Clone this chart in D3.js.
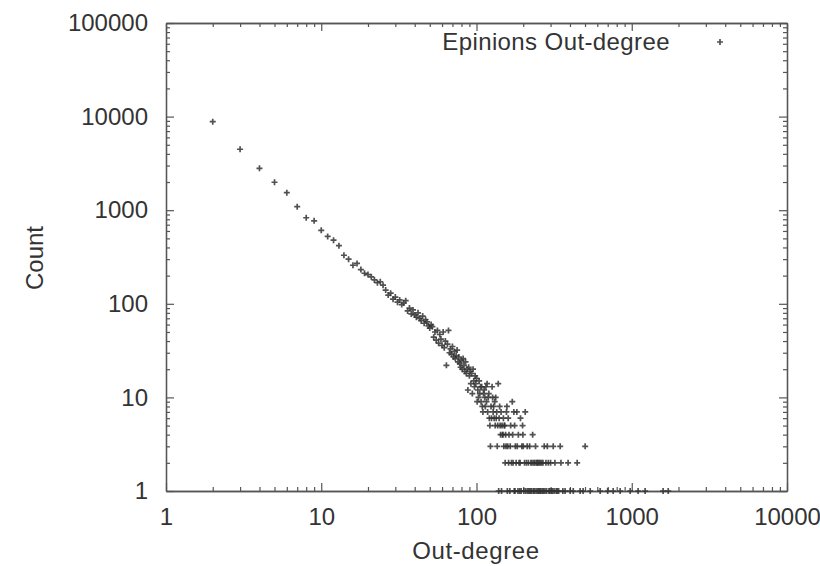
<!DOCTYPE html>
<html>
<head>
<meta charset="utf-8">
<script src="https://cdn.jsdelivr.net/npm/d3@7"></script>
<style>
  html, body { margin: 0; padding: 0; background: #fff; }
  svg { display: block; font-family: "Liberation Sans", Arial, Helvetica, sans-serif; }
</style>
</head>
<body>
<svg id="chart" width="820" height="566"></svg>
<script>
// Out-degree distribution of the Epinions trust network (log-log)
const outDegree = [
  2, 3, 4, 5, 6, 7, 8, 9, 10, 11, 12, 13, 14, 15, 16, 17, 18, 19, 20,
  21, 22, 23, 24, 25, 26, 27, 28, 29, 30, 31, 32, 33, 34, 35, 36, 37, 38, 39, 40,
  41, 42, 43, 44, 45, 46, 47, 48, 49, 50, 51, 52, 53, 54, 55, 56, 57, 58, 59, 60,
  61, 62, 63, 64, 65, 66, 67, 68, 69, 70, 71, 72, 73, 74, 75, 76, 77, 78, 79, 80,
  81, 82, 83, 84, 85, 86, 87, 88, 89, 90, 91, 92, 93, 94, 95, 96, 97, 98, 99, 100,
  101, 102, 103, 104, 105, 106, 107, 108, 109, 110, 111, 112, 113, 114, 115, 116, 117, 118, 119, 120,
  121, 122, 123, 124, 125, 126, 127, 128, 129, 130, 131, 132, 133, 134, 135, 136, 137, 138, 139, 140,
  141, 142, 143, 144, 145, 146, 147, 148, 149, 150, 151, 152, 153, 154, 155, 156, 157, 158,
  159, 160, 161, 162, 164, 165, 166, 168, 170, 171, 172, 174, 175, 176, 177, 178, 180, 182, 183, 185,
  186, 188, 190, 191, 192, 194, 196, 198, 199, 200, 202, 204, 206, 208, 210, 212, 214, 216, 218, 220,
  222, 224, 226, 228, 230, 232, 234, 236, 238, 240, 242, 244, 246, 248, 250, 252, 254, 256, 258, 260,
  263, 266, 268, 270, 273, 276, 280, 283, 286, 290, 293, 297, 300, 304, 308, 312, 316, 320, 326, 332,
  338, 346, 350, 360, 372, 389, 401, 420, 445, 465, 486, 501, 540, 626, 700, 759, 842, 977, 1099, 1219,
  1592, 1718
];
const nodeCount = [
  8830, 4480, 2800, 1990, 1540, 1090, 830, 770, 610, 525, 478, 418, 330, 300, 258, 270, 232, 212, 205,
  194, 180, 168, 172, 158, 140, 124, 130, 112, 118, 104, 110, 98, 102, 108, 84, 90, 78, 86, 76,
  72, 80, 70, 66, 74, 62, 68, 64, 58, 55, 60, 57, 44, 50, 41, 52, 38, 47, 42, 36,
  50, 34, 40, 22, 37, 52, 30, 33, 29, 35, 27, 31, 26, 28, 32, 24, 27, 23, 21, 25,
  20, 26, 22, 19, 24, 18, 20, 12, 21, 17, 19, 14, 18, 11, 20, 15, 13, 17, 14, 16,
  9, 12, 10, 15, 11, 13, 9, 13, 8, 7, 11, 12, 10, 8, 13, 9, 14, 7, 10, 11,
  6, 5, 3, 8, 6, 13, 10, 7, 8, 6, 9, 5, 10, 6, 7, 3, 5, 14, 1, 6,
  8, 5, 4, 7, 1, 5, 4, 4, 6, 3, 5, 5, 2, 4, 3, 7, 8, 1,
  3, 6, 2, 4, 1, 3, 5, 2, 9, 4, 2, 7, 1, 5, 1, 3, 2, 7, 3, 1,
  4, 2, 1, 2, 6, 1, 3, 5, 4, 3, 1, 2, 7, 1, 2, 3, 1, 2, 1, 3,
  1, 2, 1, 2, 4, 1, 2, 1, 2, 3, 1, 2, 2, 1, 2, 1, 2, 1, 2, 1,
  2, 1, 2, 1, 3, 1, 2, 1, 3, 2, 1, 1, 2, 1, 1, 3, 1, 2, 1, 1,
  1, 3, 2, 1, 1, 2, 1, 1, 2, 1, 1, 3, 1, 1, 1, 1, 1, 1, 1, 1,
  1, 1
];

const xTickValues = [1, 10, 100, 1000, 10000];
const yTickValues = [1, 10, 100, 1000, 10000, 100000];
const seriesLabel = "Epinions Out-degree";
const xTitle = "Out-degree";
const yTitle = "Count";

const plot = { left: 166, right: 787, top: 23, bottom: 491 };
const axisColor = "#555";
const textColor = "#333";
const markColor = "#333";
const fontSize = 24;

const svg = d3.select("#chart");

const x = d3.scaleLog().domain([1, 10000]).range([plot.left, plot.right]);
const y = d3.scaleLog().domain([1, 100000]).range([plot.bottom, plot.top]);

// minor ticks at 2..9 within each decade
function minorTicks(majors) {
  const out = [];
  for (let i = 0; i < majors.length - 1; i++) {
    for (let m = 2; m <= 9; m++) out.push(majors[i] * m);
  }
  return out;
}
const xMinor = minorTicks(xTickValues);
const yMinor = minorTicks(yTickValues);

function styleAxis(g) {
  g.selectAll("path.domain").attr("stroke", axisColor).attr("stroke-width", 1.3);
  g.selectAll(".tick line").attr("stroke", axisColor).attr("stroke-width", 1.2);
  g.selectAll(".tick text")
    .attr("fill", textColor)
    .style("font-size", fontSize + "px")
    .style("font-family", '"Liberation Sans", Arial, sans-serif');
}

// bottom axis with labels
svg.append("g")
  .attr("transform", `translate(0,${plot.bottom})`)
  .call(d3.axisBottom(x).tickValues(xTickValues).tickFormat(d3.format("d"))
    .tickSize(-8).tickSizeOuter(0).tickPadding(17))
  .call(styleAxis);
svg.append("g")
  .attr("transform", `translate(0,${plot.bottom})`)
  .call(d3.axisBottom(x).tickValues(xMinor).tickFormat("").tickSize(-4).tickSizeOuter(0))
  .call(styleAxis);

// top mirror
svg.append("g")
  .attr("transform", `translate(0,${plot.top})`)
  .call(d3.axisTop(x).tickValues(xTickValues).tickFormat("").tickSize(-8).tickSizeOuter(0))
  .call(styleAxis);
svg.append("g")
  .attr("transform", `translate(0,${plot.top})`)
  .call(d3.axisTop(x).tickValues(xMinor).tickFormat("").tickSize(-4).tickSizeOuter(0))
  .call(styleAxis);

// left axis with labels
svg.append("g")
  .attr("transform", `translate(${plot.left},0)`)
  .call(d3.axisLeft(y).tickValues(yTickValues).tickFormat(d3.format("d"))
    .tickSize(-8).tickSizeOuter(0).tickPadding(18))
  .call(styleAxis);
svg.append("g")
  .attr("transform", `translate(${plot.left},0)`)
  .call(d3.axisLeft(y).tickValues(yMinor).tickFormat("").tickSize(-4).tickSizeOuter(0))
  .call(styleAxis);

// right mirror
svg.append("g")
  .attr("transform", `translate(${plot.right},0)`)
  .call(d3.axisRight(y).tickValues(yTickValues).tickFormat("").tickSize(-8).tickSizeOuter(0))
  .call(styleAxis);
svg.append("g")
  .attr("transform", `translate(${plot.right},0)`)
  .call(d3.axisRight(y).tickValues(yMinor).tickFormat("").tickSize(-4).tickSizeOuter(0))
  .call(styleAxis);

// axis titles
svg.append("text")
  .attr("x", 476)
  .attr("y", 551)
  .attr("text-anchor", "middle")
  .attr("dy", "0.35em")
  .attr("fill", textColor)
  .style("font-size", fontSize + "px")
  .style("letter-spacing", "0.6px")
  .text(xTitle);

svg.append("text")
  .attr("transform", `translate(35,258) rotate(-90)`)
  .attr("text-anchor", "middle")
  .attr("dy", "0.35em")
  .attr("fill", textColor)
  .style("font-size", fontSize + "px")
  .text(yTitle);

// points drawn as small crosses
const cross = "M-3,0H3M0,-3V3";
const points = d3.zip(outDegree, nodeCount);

svg.append("g")
  .selectAll("path")
  .data(points)
  .join("path")
  .attr("d", cross)
  .attr("transform", d => `translate(${x(d[0])},${y(d[1])})`)
  .attr("fill", "none")
  .attr("stroke", markColor)
  .attr("stroke-width", 1.7)
  .attr("stroke-opacity", 0.85);

// key
const key = svg.append("g");
key.append("text")
  .attr("x", 670)
  .attr("y", 42)
  .attr("dy", "0.35em")
  .attr("text-anchor", "end")
  .attr("fill", textColor)
  .style("font-size", fontSize + "px")
  .style("letter-spacing", "0.4px")
  .text(seriesLabel);
key.append("path")
  .attr("d", cross)
  .attr("transform", "translate(720,42)")
  .attr("fill", "none")
  .attr("stroke", markColor)
  .attr("stroke-width", 1.7)
  .attr("stroke-opacity", 0.85);
</script>
</body>
</html>
